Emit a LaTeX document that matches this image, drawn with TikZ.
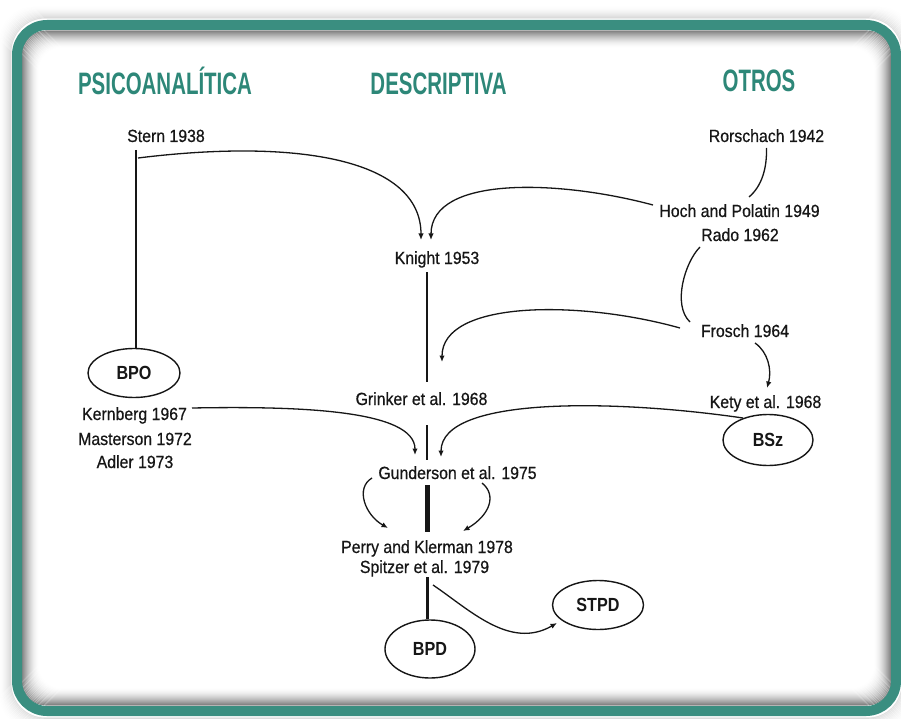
\documentclass[tikz,border=0pt]{standalone}
\usepackage{fontspec}
\setmainfont{Liberation Sans}
\newfontfamily\bodyf[FakeStretch=0.9,FakeBold=0.6]{Liberation Sans}
\newfontfamily\ovalf[FakeStretch=0.85]{Liberation Sans}
\newfontfamily\headf[FakeStretch=0.66]{Liberation Sans}
\usetikzlibrary{arrows.meta,shapes.geometric}
\definecolor{teal1}{RGB}{58,142,128}
\definecolor{headc}{RGB}{45,135,120}
\definecolor{ink}{RGB}{22,22,22}
\begin{document}
\begin{tikzpicture}[x=1pt,y=-1pt,
  lbl/.style={font=\bodyf\fontsize{17.6}{17.6}\selectfont, text=ink, inner sep=2pt, anchor=base},
  head/.style={font=\headf\bfseries\fontsize{31}{31}\selectfont, text=headc, anchor=base, inner sep=0pt},
  oval/.style={ellipse, draw=ink, line width=1.4pt, font=\ovalf\bfseries\fontsize{19}{19}\selectfont, text=ink, inner sep=0pt},
  conn/.style={draw=ink, line width=1.3pt},
  arr/.style={conn, -{Latex[length=6.5pt,width=5.5pt]}}]
\useasboundingbox (0,0) rectangle (901,719);
\fill[white] (0,0) rectangle (901,719);
% outer shadow
\foreach \i [evaluate=\i as \op using {0.14*(1-\i/14)^2}] in {1,...,13}
  \draw[black,opacity=\op,line width=1.1pt,rounded corners=34pt] ({12-\i},{19-\i}) rectangle ({901+\i},{717+\i});
% inner shadow
\foreach \i [evaluate=\i as \op using {0.45*(1-\i/18)^2}] in {0,...,17}
  \draw[black,opacity=\op,line width=1.1pt,rounded corners=24pt] ({22+\i},{31+\i}) rectangle ({891-\i},{705-\i});
% frame
\draw[teal1,line width=10pt,rounded corners=30pt] (17,25) rectangle (896,711);

% headers
\node[head] (hpsi) at (165,95) {PSICOANALÍTICA};
\node[head] (hdes) at (438.5,95) {DESCRIPTIVA};
\node[head] (hotr) at (759,92) {OTROS};

% labels
\node[lbl] (stern) at (166,142) {Stern 1938};
\node[lbl] (rorsch) at (766.5,142) {Rorschach 1942};
\node[lbl] (hoch) at (739.5,217) {Hoch and Polatin 1949};
\node[lbl] (rado) at (740,241) {Rado 1962};
\node[lbl] (knight) at (437,264) {Knight 1953};
\node[lbl] (frosch) at (745,337) {Frosch 1964};
\node[lbl] (grinker) at (421.5,405) {Grinker et al. 1968};
\node[lbl] (kety) at (765.5,408) {Kety et al. 1968};
\node[lbl] (kern) at (134.5,420) {Kernberg 1967};
\node[lbl] (mast) at (135,445) {Masterson 1972};
\node[lbl] (adler) at (135,468) {Adler 1973};
\node[lbl] (gund) at (457.5,479) {Gunderson et al. 1975};
\node[lbl] (perry) at (427,553) {Perry and Klerman 1978};
\node[lbl] (spitz) at (424.5,573) {Spitzer et al. 1979};

% ovals
\node[oval, minimum width=92pt, minimum height=49pt] (bpo) at (134,373) {BPO};
\node[oval, minimum width=90pt, minimum height=51pt] (bsz) at (768,440) {BSz};
\node[oval, minimum width=91pt, minimum height=49pt] (stpd) at (598,605) {STPD};
\node[oval, minimum width=90pt, minimum height=58pt] (bpd) at (430,649) {BPD};

% connectors
\coordinate (sternj) at ([xshift=-28pt,yshift=-16pt]stern.base);
\draw[conn] ([xshift=-30pt,yshift=-8pt]stern.base) -- ([xshift=2pt]bpo.north);
\draw[arr] (sternj) .. controls (300,138) and (421,160) .. ([xshift=-16pt,yshift=24pt]knight.base);
\draw[arr] ([xshift=-86.5pt,yshift=12pt]hoch.base) .. controls (560,180) and (431,175) .. ([xshift=-6pt,yshift=24pt]knight.base);
\draw[conn] ([yshift=-6pt]rorsch.base) .. controls (767,168) and (762,186) .. ([xshift=9.5pt,yshift=20pt]hoch.base);
\draw[conn] ([xshift=-40pt,yshift=-6pt]rado.base) .. controls (685,262) and (672,305) .. ([xshift=-55pt,yshift=15pt]frosch.base);
\draw[arr] ([xshift=-65pt,yshift=9pt]frosch.base) .. controls (580,300) and (442,300) .. ([xshift=20.5pt,yshift=43pt]grinker.base);
\draw[conn] ([xshift=-10pt,yshift=-8pt]knight.base) -- ([xshift=5.5pt,yshift=23pt]grinker.base);
\draw[arr] ([xshift=10pt,yshift=-6pt]frosch.base) .. controls (768,352) and (772,370) .. ([xshift=1.5pt,yshift=20pt]kety.base);
\draw[conn] ([xshift=5.5pt,yshift=-20pt]grinker.base) -- ([xshift=-30.5pt,yshift=19pt]gund.base);
\draw[arr] ([xshift=57.5pt,yshift=12pt]kern.base) .. controls (300,406) and (415,410) .. ([xshift=-42.5pt,yshift=24pt]gund.base);
\draw[arr] ([xshift=-25pt,yshift=22pt]bsz.center) .. controls (620,400) and (441,395) .. ([xshift=-16.5pt,yshift=22pt]gund.base);
\draw[conn,line width=5pt] ([xshift=-30.5pt,yshift=-6pt]gund.base) -- ([yshift=21pt]perry.base);
\draw[arr] ([xshift=-85.5pt,yshift=1pt]gund.base) .. controls (355,488) and (365,515) .. ([xshift=-39pt,yshift=25pt]perry.base);
\draw[arr] ([xshift=24.5pt,yshift=-4pt]gund.base) .. controls (497,495) and (490,515) .. ([xshift=36pt,yshift=22pt]perry.base);
\draw[conn,line width=3pt] ([xshift=2.5pt,yshift=-4pt]spitz.base) -- ([xshift=-3pt]bpd.north);
\draw[arr] ([xshift=8.5pt,yshift=-12pt]spitz.base) .. controls (470,610) and (510,650) .. ([xshift=-41pt,yshift=-18pt]stpd.center);
\end{tikzpicture}
\end{document}
